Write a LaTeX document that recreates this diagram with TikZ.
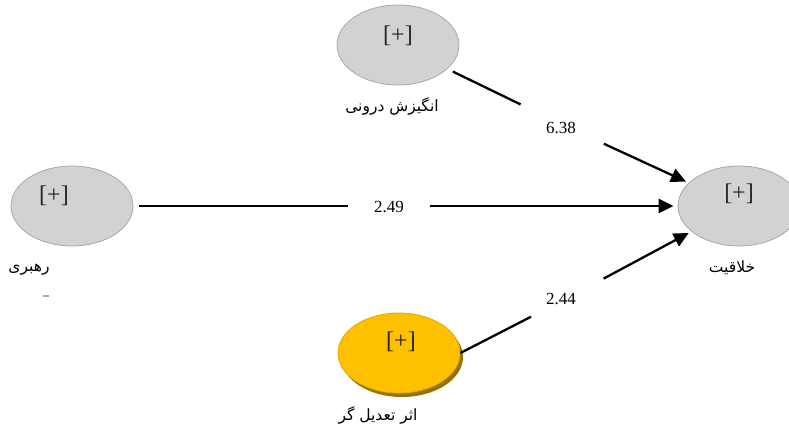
\documentclass[tikz,border=0pt]{standalone}
\usepackage{fontspec}
\setmainfont{Liberation Serif}
\newfontfamily\arabicfont[Script=Arabic]{DejaVu Sans}
\TeXXeTstate=1
\usetikzlibrary{shapes.geometric,arrows.meta}
\definecolor{lvgray}{RGB}{210,210,210}
\definecolor{lvborder}{RGB}{168,168,168}
\definecolor{modyel}{RGB}{255,192,0}
\definecolor{modborder}{RGB}{230,170,0}
\definecolor{modshadow}{RGB}{150,115,0}
\tikzset{
  latent/.style={ellipse, draw=lvborder, fill=lvgray, line width=0.8pt,
    minimum width=122pt, minimum height=80pt, inner sep=0pt},
  moderator/.style={ellipse, draw=modborder, fill=modyel, line width=0.8pt,
    minimum width=122pt, minimum height=80pt, inner sep=0pt},
  plus/.style={font=\fontsize{24}{24}\selectfont, text=black!85, inner sep=0pt},
  pathval/.style={font=\fontsize{17}{17}\selectfont, inner sep=0pt},
  gap/.style={circle, inner sep=0pt},
  fa/.style={font=\arabicfont\fontsize{15.5}{16}\selectfont, inner sep=0pt},
  conn/.style={line width=2.3pt, black},
  arr/.style={conn, -{Triangle[length=15pt,width=14pt]}, shorten >=3pt},
}
\begin{document}
\begin{tikzpicture}[x=1pt,y=-1pt]
\useasboundingbox (0,0) rectangle (789,428);
% latent variables
\node[latent] (top) at (398,45) {};
\node[latent] (lead) at (72,206) {};
\node[latent] (creat) at (739,206) {};
\fill[modshadow] (402,357) ellipse [x radius=61, y radius=40];
\node[moderator] (mod) at (399,353) {};
% [+] markers
\node[plus] (ptop) at (398,36) {[+]};
\node[plus] (plead) at (54,196) {[+]};
\node[plus] (pcreat) at (739,194) {[+]};
\node[plus] (pmod) at (401,342) {[+]};
% labels
\node[fa] (ltop) at (392,106) {\beginR انگیزش درونی\endR};
\node[fa] (llead) at (29,270) {\beginR رهبری\endR};
\node[fa] (lcreat) at (732,268) {\beginR خلاقیت\endR};
\node[fa] (lmod) at (378,415) {\beginR اثر تعدیل گر\endR};
\node[fill=lvborder, minimum width=6pt, minimum height=1.5pt, inner sep=0pt] (mark) at (46,296) {};
% gaps for path values
\node[gap, minimum size=91.6pt] (g1) at (562,124.5) {};
\node[gap, minimum size=82pt] (g2) at (389,206) {};
\node[gap, minimum size=81.5pt] (g3) at (567.5,298) {};
\node[pathval] (v1) at (561,128) {6.38};
\node[pathval] (v2) at (389,207) {2.49};
\node[pathval] (v3) at (561,299) {2.44};
% connectors
\draw[conn, shorten <=6pt] (top) -- (g1);
\draw[arr] (g1) -- (creat);
\draw[conn, shorten <=6pt] (lead) -- (g2);
\draw[arr, shorten >=4pt] (g2) -- (creat);
\draw[conn] (mod.east) -- (g3);
\draw[arr] (g3) -- (creat);
\end{tikzpicture}
\end{document}
